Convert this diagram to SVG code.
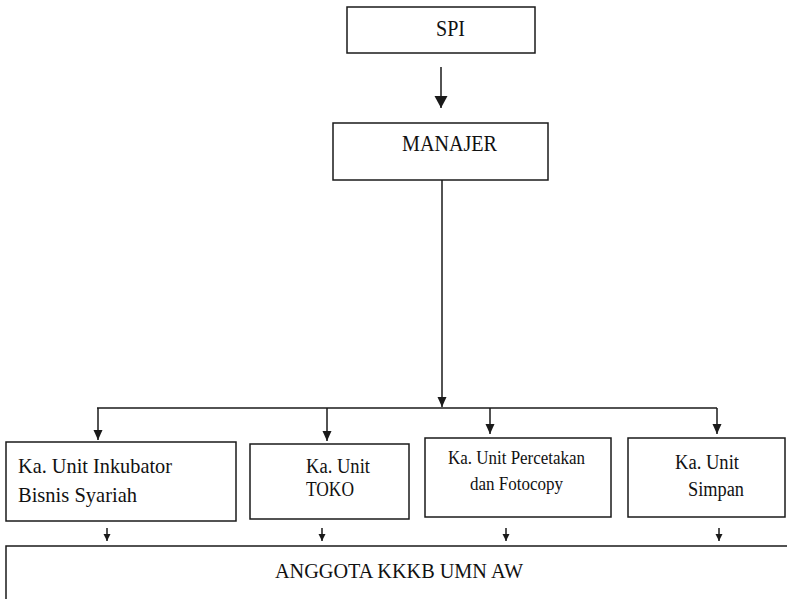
<svg xmlns="http://www.w3.org/2000/svg" width="787" height="599" viewBox="0 0 787 599">
<style>
.box{fill:#fff;stroke:#1a1a1a;stroke-width:1.5}
.ln{fill:none;stroke:#1a1a1a;stroke-width:1.5}
text{font-family:"Liberation Serif","Times New Roman",serif;fill:#111}
</style>
<defs>
<marker id="aL" markerUnits="userSpaceOnUse" markerWidth="14" markerHeight="14" refX="12" refY="6.5" orient="auto"><path d="M0,0 L12,6.5 L0,13 Z" fill="#1a1a1a"/></marker>
<marker id="aM" markerUnits="userSpaceOnUse" markerWidth="12" markerHeight="10" refX="10" refY="4.5" orient="auto"><path d="M0,0 L10,4.5 L0,9 Z" fill="#1a1a1a"/></marker>
<marker id="aS" markerUnits="userSpaceOnUse" markerWidth="9" markerHeight="8" refX="7" refY="3.5" orient="auto"><path d="M0,0 L7,3.5 L0,7 Z" fill="#1a1a1a"/></marker>
</defs>
<g id="connectors">
<line class="ln" x1="441" y1="67" x2="441" y2="108" marker-end="url(#aL)"/>
<line class="ln" x1="442" y1="180" x2="442" y2="407" marker-end="url(#aM)"/>
<line class="ln" x1="97" y1="408" x2="717" y2="408"/>
<line class="ln" x1="98" y1="408" x2="98" y2="440" marker-end="url(#aM)"/>
<line class="ln" x1="327" y1="408" x2="327" y2="441" marker-end="url(#aM)"/>
<line class="ln" x1="490" y1="408" x2="490" y2="434" marker-end="url(#aM)"/>
<line class="ln" x1="717" y1="408" x2="717" y2="434" marker-end="url(#aM)"/>
<line class="ln" x1="107" y1="528" x2="107" y2="541" marker-end="url(#aS)"/>
<line class="ln" x1="322" y1="528" x2="322" y2="541" marker-end="url(#aS)"/>
<line class="ln" x1="506" y1="528" x2="506" y2="541" marker-end="url(#aS)"/>
<line class="ln" x1="719" y1="528" x2="719" y2="541" marker-end="url(#aS)"/>
</g>
<g id="spi">
<rect class="box" x="347" y="7" width="188" height="46"/>
<text x="436" y="36" font-size="23" textLength="29" lengthAdjust="spacingAndGlyphs">SPI</text>
</g>
<g id="manajer">
<rect class="box" x="333" y="123" width="215" height="57"/>
<text x="402" y="151" font-size="23" textLength="95" lengthAdjust="spacingAndGlyphs">MANAJER</text>
</g>
<g id="inkubator">
<rect class="box" x="6" y="442" width="230" height="79"/>
<text x="18" y="473" font-size="22" textLength="154" lengthAdjust="spacingAndGlyphs">Ka. Unit Inkubator</text>
<text x="18" y="502" font-size="22" textLength="119" lengthAdjust="spacingAndGlyphs">Bisnis Syariah</text>
</g>
<g id="toko">
<rect class="box" x="250" y="444" width="159" height="75"/>
<text x="306" y="473" font-size="20" textLength="64" lengthAdjust="spacingAndGlyphs">Ka. Unit</text>
<text x="306" y="496" font-size="20" textLength="48" lengthAdjust="spacingAndGlyphs">TOKO</text>
</g>
<g id="percetakan">
<rect class="box" x="425" y="438" width="186" height="79"/>
<text x="448" y="464" font-size="18" textLength="137" lengthAdjust="spacingAndGlyphs">Ka. Unit Percetakan</text>
<text x="470" y="490" font-size="18" textLength="93" lengthAdjust="spacingAndGlyphs">dan Fotocopy</text>
</g>
<g id="simpan">
<rect class="box" x="628" y="438" width="157" height="79"/>
<text x="675" y="469" font-size="20" textLength="64" lengthAdjust="spacingAndGlyphs">Ka. Unit</text>
<text x="688" y="496" font-size="20" textLength="56" lengthAdjust="spacingAndGlyphs">Simpan</text>
</g>
<g id="anggota">
<rect class="box" x="6" y="546" width="800" height="80"/>
<text x="275" y="578" font-size="21" textLength="248" lengthAdjust="spacingAndGlyphs">ANGGOTA KKKB UMN AW</text>
</g>
</svg>
